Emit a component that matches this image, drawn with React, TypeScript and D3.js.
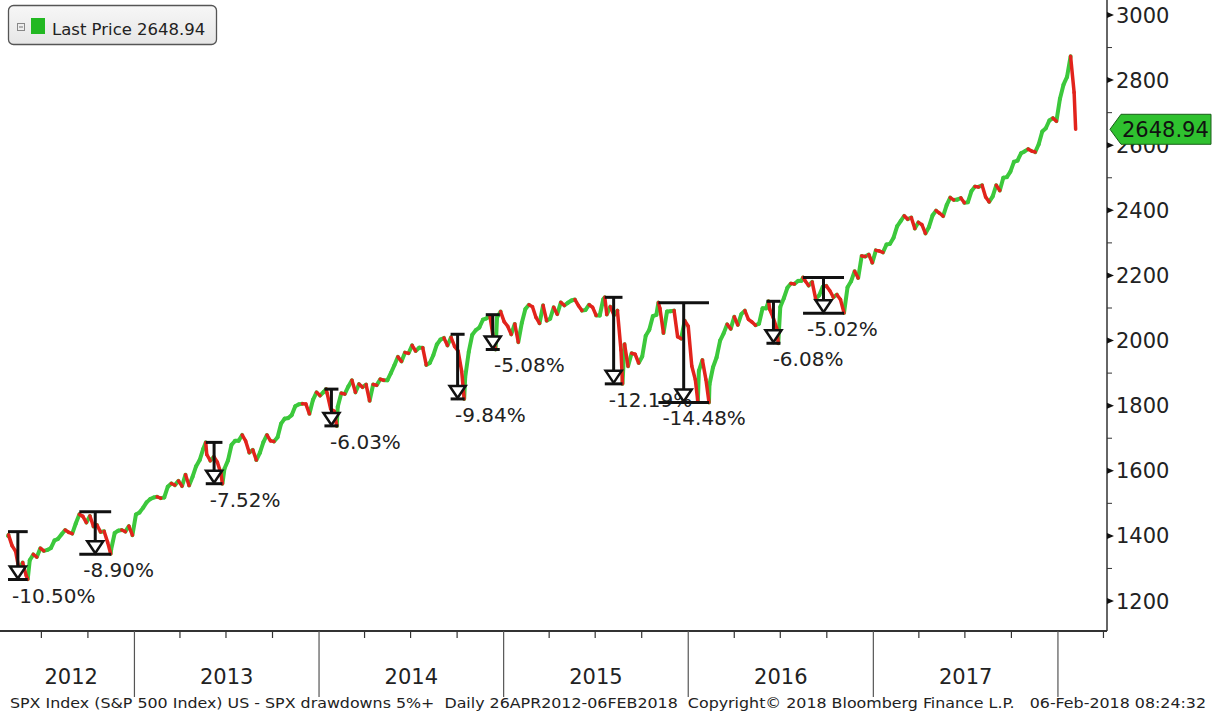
import React from 'react';
import * as d3 from 'd3';

const W = 1212;
const H = 715;

// Weekly (Friday) closes of the S&P 500
const closes2012 = [1403, 1370, 1353, 1295, 1318, 1278, 1325, 1343, 1335, 1362, 1354, 1357, 1363, 1386, 1391, 1405, 1418, 1411, 1407, 1438, 1466, 1460, 1441, 1461, 1429, 1433, 1412, 1414, 1380, 1359, 1409, 1416, 1418, 1413, 1430, 1402];
const closes2013 = [1466, 1472, 1486, 1503, 1513, 1518, 1520, 1516, 1518, 1551, 1561, 1556, 1569, 1553, 1588, 1555, 1582, 1614, 1633, 1667, 1650, 1631, 1643, 1626, 1592, 1606, 1632, 1680, 1692, 1692, 1710, 1691, 1656, 1664, 1633, 1655, 1688, 1710, 1692, 1690, 1703, 1745, 1760, 1762, 1771, 1798, 1804, 1806, 1805, 1775, 1818, 1841];
const closes2014 = [1831, 1842, 1838, 1790, 1783, 1797, 1838, 1836, 1859, 1878, 1841, 1866, 1857, 1865, 1815, 1865, 1863, 1881, 1878, 1878, 1900, 1924, 1950, 1936, 1963, 1961, 1985, 1968, 1978, 1978, 1925, 1931, 1955, 1988, 2003, 2008, 1985, 2010, 1982, 1968, 1906, 1887, 1965, 2018, 2032, 2040, 2064, 2068, 2075, 2003, 2071, 2089];
const closes2015 = [2058, 2044, 2019, 2051, 1995, 2055, 2097, 2110, 2104, 2071, 2053, 2108, 2061, 2067, 2102, 2081, 2117, 2108, 2116, 2123, 2126, 2107, 2092, 2094, 2110, 2102, 2077, 2077, 2127, 2080, 2104, 2078, 2092, 1971, 1989, 1921, 1961, 1958, 1931, 1951, 2015, 2033, 2075, 2079, 2099, 2023, 2089, 2090, 2092, 2012, 2006, 2061];
const closes2016 = [2044, 1922, 1880, 1907, 1940, 1880, 1865, 1918, 1948, 2000, 2022, 2050, 2036, 2073, 2048, 2081, 2092, 2065, 2057, 2047, 2052, 2099, 2099, 2096, 2071, 2037, 2103, 2130, 2162, 2175, 2174, 2183, 2184, 2184, 2169, 2180, 2128, 2139, 2165, 2168, 2153, 2133, 2141, 2126, 2085, 2164, 2182, 2213, 2192, 2260, 2258, 2264, 2239];
const closes2017 = [2277, 2275, 2271, 2295, 2297, 2316, 2351, 2367, 2383, 2373, 2378, 2344, 2363, 2356, 2329, 2349, 2384, 2399, 2391, 2382, 2416, 2439, 2432, 2433, 2438, 2423, 2425, 2459, 2473, 2472, 2477, 2441, 2426, 2443, 2477, 2461, 2500, 2502, 2519, 2549, 2553, 2575, 2581, 2588, 2582, 2579, 2603, 2642, 2652, 2676, 2683, 2674];
const closes2018 = [2743, 2786, 2810, 2873, 2762];
const weeklyByYear = [closes2012, closes2013, closes2014, closes2015, closes2016, closes2017, closes2018];

// Intra-week extremes and the first/last prints
const extraPoints: [string, number][] = [
  ['2012-04-26', 1399.98],
  ['2012-06-04', 1266.7],
  ['2012-11-15', 1345.0],
  ['2013-05-22', 1687.2],
  ['2013-06-24', 1560.3],
  ['2014-01-15', 1850.8],
  ['2014-02-05', 1737.9],
  ['2014-10-15', 1820.7],
  ['2014-12-16', 1972.6],
  ['2015-07-20', 2132.8],
  ['2015-08-24', 1867.0],
  ['2015-11-03', 2116.5],
  ['2016-01-20', 1812.3],
  ['2016-02-11', 1810.1],
  ['2016-06-08', 2120.6],
  ['2016-06-27', 1991.7],
  ['2016-08-15', 2193.8],
  ['2018-02-05', 2648.94],
];

const drawdowns = [
  { start: '2012-04-26', end: '2012-06-04', peak: 1413, trough: 1266, label: '-10.50%' },
  { start: '2012-09-14', end: '2012-11-16', peak: 1474.5, trough: 1343.4, label: '-8.90%' },
  { start: '2013-05-22', end: '2013-06-24', peak: 1687.2, trough: 1560.3, label: '-7.52%' },
  { start: '2014-01-15', end: '2014-02-05', peak: 1850.8, trough: 1737.9, label: '-6.03%' },
  { start: '2014-09-19', end: '2014-10-15', peak: 2019.3, trough: 1820.7, label: '-9.84%' },
  { start: '2014-12-05', end: '2014-12-16', peak: 2079.5, trough: 1972.6, label: '-5.08%' },
  { start: '2015-07-20', end: '2015-08-24', peak: 2132.8, trough: 1867.0, label: '-12.19%' },
  { start: '2015-11-03', end: '2016-02-11', peak: 2116.5, trough: 1810.1, label: '-14.48%' },
  { start: '2016-06-08', end: '2016-06-27', peak: 2120.6, trough: 1991.7, label: '-6.08%' },
  { start: '2016-08-15', end: '2016-11-04', peak: 2193.8, trough: 2083.8, label: '-5.02%' },
];

const yMajorTicks = [1200, 1400, 1600, 1800, 2000, 2200, 2400, 2600, 2800, 3000];
const yMinorTicks = [1300, 1500, 1700, 1900, 2100, 2300, 2500, 2700, 2900];
const yearLabels = ['2012', '2013', '2014', '2015', '2016', '2017'];
const lastPrice = 2648.94;
const legendLabel = 'Last Price 2648.94';
const footer = 'SPX Index (S&P 500 Index) US - SPX drawdowns 5%+  Daily 26APR2012-06FEB2018  Copyright\u00a9 2018 Bloomberg Finance L.P.   06-Feb-2018 08:24:32';

const GREEN = '#3cc83c';
const RED = '#e2231c';
const FONT = "'DejaVu Sans', Verdana, sans-serif";

const parse = d3.timeParse('%Y-%m-%d');

export default function App() {
  const x = d3.scaleTime()
    .domain([new Date(2012, 3, 26), new Date(2018, 3, 8)])
    .range([8, 1107]);
  const y = d3.scaleLinear().domain([1200, 3000]).range([601, 15]);
  const axisY = 631;
  const axisX = 1107;

  const weekly = weeklyByYear.flatMap((arr, i) => {
    const yr = 2012 + i;
    const start = yr === 2012 ? new Date(2012, 3, 27) : new Date(yr, 0, 1);
    const fridays = d3.timeFriday.range(start, new Date(yr + 1, 0, 1));
    return arr.map((v, j) => ({ date: fridays[j], value: v }));
  });
  const extras = extraPoints.map(([d, v]) => ({ date: parse(d) as Date, value: v }));
  const series = [...weekly, ...extras].sort((a, b) => +a.date - +b.date);

  const segs = series.slice(1).map((p, i) => {
    const prev = series[i];
    return {
      x1: x(prev.date), y1: y(prev.value), x2: x(p.date), y2: y(p.value),
      up: p.value >= prev.value,
    };
  });
  const greenSegs = segs.filter((s) => s.up);
  const redSegs = segs.filter((s) => !s.up);

  const yearStarts = d3.range(2013, 2019).map((yr) => new Date(yr, 0, 1));
  const yearBounds = [x.range()[0], ...yearStarts.map((d) => x(d))];
  const quarterTicks = d3.timeMonth.every(3)!
    .range(x.domain()[0], x.domain()[1])
    .filter((d) => d.getMonth() !== 0);

  const tagY = y(lastPrice);

  return (
    <svg width={W} height={H} style={{ position: 'absolute', left: 0, top: 0, background: '#fff' }} fontFamily={FONT}>
      <defs>
        <linearGradient id="lg" x1="0" y1="0" x2="0" y2="1">
          <stop offset="0" stopColor="#f7f7f7" />
          <stop offset="1" stopColor="#e6e6e6" />
        </linearGradient>
      </defs>
      <rect width={W} height={H} fill="#fff" />

      {/* price line */}
      <g strokeLinecap="round">
        {greenSegs.map((s, i) => (
          <line key={'g' + i} x1={s.x1} y1={s.y1} x2={s.x2} y2={s.y2}
            stroke={GREEN} strokeWidth={4} />
        ))}
        {redSegs.map((s, i) => (
          <line key={'r' + i} x1={s.x1} y1={s.y1} x2={s.x2} y2={s.y2}
            stroke={RED} strokeWidth={3.5} />
        ))}
      </g>

      {/* drawdown markers */}
      {drawdowns.map((d, i) => {
        const x0 = x(parse(d.start) as Date);
        const x1 = x(parse(d.end) as Date);
        const xm = (x0 + x1) / 2;
        const half = Math.max((x1 - x0) / 2, 7);
        const yT = y(d.peak);
        const yB = y(d.trough);
        const th = 13;
        return (
          <g key={i}>
            <line x1={xm - half} x2={xm + half} y1={yT} y2={yT} stroke="#111" strokeWidth={3} />
            <line x1={xm} x2={xm} y1={yT} y2={yB - th} stroke="#111" strokeWidth={3} />
            <line x1={xm - half} x2={xm + half} y1={yB} y2={yB} stroke="#111" strokeWidth={3} />
            <polygon points={`${xm - 8},${yB - th} ${xm + 8},${yB - th} ${xm},${yB - 1}`}
              fill="#fff" stroke="#111" strokeWidth={2.5} strokeLinejoin="miter" />
            <text x={x0 + 4} y={yB + 23} fontSize={20} fill="#222">{d.label}</text>
          </g>
        );
      })}

      {/* right axis */}
      <line x1={axisX} x2={axisX} y1={0} y2={axisY} stroke="#333" strokeWidth={1.5} />
      {yMinorTicks.map((t) => (
        <line key={t} x1={axisX} x2={axisX + 5} y1={y(t)} y2={y(t)} stroke="#333" strokeWidth={1} />
      ))}
      {yMajorTicks.map((t) => (
        <g key={t}>
          <polygon points={`${axisX},${y(t) - 3} ${axisX + 7},${y(t)} ${axisX},${y(t) + 3}`} fill="#111" />
          <text x={axisX + 9} y={y(t) + 7.5} fontSize={21} fill="#222">{t}</text>
        </g>
      ))}

      {/* bottom axis */}
      <line x1={0} x2={axisX} y1={axisY} y2={axisY} stroke="#333" strokeWidth={2} />
      {quarterTicks.map((d, i) => (
        <line key={i} x1={x(d)} x2={x(d)} y1={axisY} y2={axisY + 7} stroke="#333" strokeWidth={1.2} />
      ))}
      {yearStarts.map((d, i) => (
        <line key={i} x1={x(d)} x2={x(d)} y1={axisY} y2={697} stroke="#555" strokeWidth={1.2} />
      ))}
      {yearLabels.map((lbl, i) => (
        <text key={lbl} x={(yearBounds[i] + yearBounds[i + 1]) / 2} y={684} fontSize={21}
          fill="#222" textAnchor="middle">{lbl}</text>
      ))}

      {/* last price tag */}
      <polygon
        points={`${axisX + 3},${tagY} ${axisX + 14},${tagY - 15} ${W - 1},${tagY - 15} ${W - 1},${tagY + 15} ${axisX + 14},${tagY + 15}`}
        fill="#2fc12f" stroke="#1a5e1a" strokeWidth={1} />
      <text x={axisX + 15} y={tagY + 8} fontSize={21} fill="#111">{lastPrice.toFixed(2)}</text>

      {/* legend */}
      <rect x={8.5} y={5.5} width={208} height={39} rx={5} fill="url(#lg)" stroke="#555" strokeWidth={1.3} />
      <rect x={17.5} y={23.5} width={7} height={7} fill="#eee" stroke="#888" strokeWidth={1} />
      <line x1={19} x2={23} y1={27} y2={27} stroke="#777" strokeWidth={1} />
      <rect x={31} y={18} width={14} height={16} fill="#22b822" />
      <text x={52} y={34.5} fontSize={16.5} fill="#222">{legendLabel}</text>

      {/* footer */}
      <text x={10} y={708} fontSize={14} fill="#222" textLength={1196} lengthAdjust="spacingAndGlyphs"
        style={{ whiteSpace: 'pre' }}>{footer}</text>
    </svg>
  );
}
